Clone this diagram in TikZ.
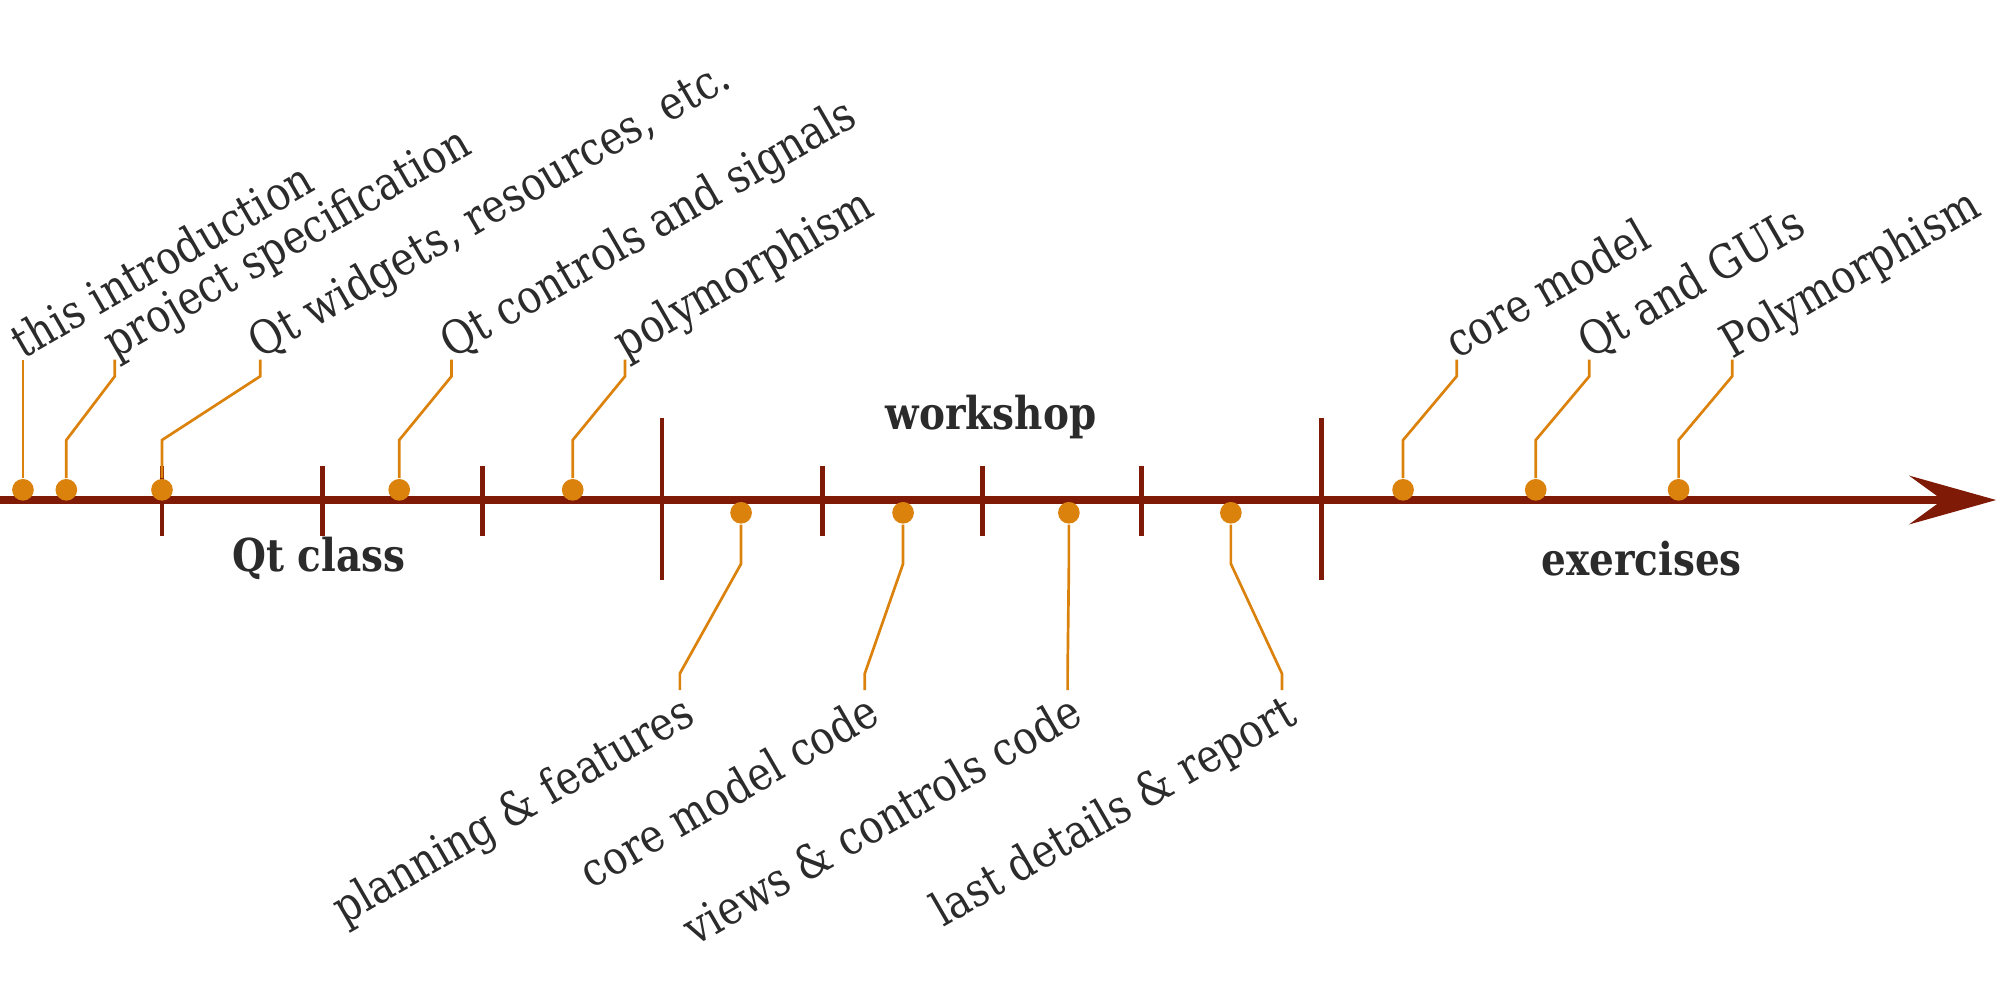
\documentclass[tikz,border=0pt]{standalone}
\usepackage{fontspec}
\setmainfont{DejaVu Serif}[FakeStretch=0.86]
\usetikzlibrary{arrows.meta}

\definecolor{axisred}{HTML}{7F1A07}
\definecolor{dotorange}{HTML}{DB820D}
\definecolor{txtgray}{HTML}{2B2B2B}

\tikzset{
	weektick/.style={draw=axisred, line width=1.1pt},
	evdot/.style={circle, fill=dotorange, inner sep=0pt, minimum size=1.7mm},
	callout/.style={draw=dotorange, line width=0.6pt},
	toplabel/.style={rotate=30, anchor=base west, text=txtgray, inner sep=0pt, font=\fontsize{10.4}{12}\selectfont},
	botlabel/.style={rotate=30, anchor=north east, text=txtgray, inner sep=0pt, font=\fontsize{10.4}{12}\selectfont},
	phase/.style={font=\fontsize{10.1}{12}\selectfont\bfseries, text=txtgray}
}

\begin{document}
\begin{tikzpicture}
	\useasboundingbox (0,-3.92) rectangle (15.68,3.92);
	
	\coordinate (a0) at (0,0);
	\coordinate (a1) at (15.65,0);
	\draw [axisred, line width=1.9pt, -{Stealth[length=6.8mm, width=3.8mm, inset=2.6mm]}] (a0) -- (a1);
	
	\draw [weektick] (1.27,0.27) -- (1.27,-0.28);
	\draw [weektick] (2.53,0.27) -- (2.53,-0.28);
	\draw [weektick] (3.78,0.27) -- (3.78,-0.28);
	\draw [weektick] (5.19,0.64) -- (5.19,-0.63);
	\draw [weektick] (6.45,0.27) -- (6.45,-0.28);
	\draw [weektick] (7.70,0.27) -- (7.70,-0.28);
	\draw [weektick] (8.95,0.27) -- (8.95,-0.28);
	\draw [weektick] (10.36,0.64) -- (10.36,-0.63);
	
	\node [phase] (p1) at (2.50,-0.46) {Qt class};
	\node [phase] (p2) at (7.77,0.65) {workshop};
	\node [phase] (p3) at (12.87,-0.46) {exercises};
	
	\node [evdot] (v1) at (0.18,0.08) {};
	\node [evdot] (v2) at (0.52,0.08) {};
	\node [evdot] (v3) at (1.27,0.08) {};
	\node [evdot] (v4) at (3.13,0.08) {};
	\node [evdot] (v5) at (4.49,0.08) {};
	\node [evdot] (v6) at (11.00,0.08) {};
	\node [evdot] (v7) at (12.04,0.08) {};
	\node [evdot] (v8) at (13.16,0.08) {};
	
	\node [evdot] (w1) at (5.81,-0.10) {};
	\node [evdot] (w2) at (7.08,-0.10) {};
	\node [evdot] (w3) at (8.38,-0.10) {};
	\node [evdot] (w4) at (9.65,-0.10) {};
	
	\node [toplabel] (t1) at (0.18,1.10) {this introduction};
	\node [toplabel] (t2) at (0.90,1.10) {project specification};
	\node [toplabel] (t3) at (2.04,1.10) {Qt widgets, resources, etc.};
	\node [toplabel] (t4) at (3.54,1.10) {Qt controls and signals};
	\node [toplabel] (t5) at (4.90,1.10) {polymorphism};
	\node [toplabel] (t6) at (11.42,1.10) {core model};
	\node [toplabel] (t7) at (12.46,1.10) {Qt and GUIs};
	\node [toplabel] (t8) at (13.58,1.10) {Polymorphism};
	
	\node [botlabel] (b1) at (5.33,-1.49) {planning \& features};
	\node [botlabel] (b2) at (6.78,-1.49) {core model code};
	\node [botlabel] (b3) at (8.37,-1.49) {views \& controls code};
	\node [botlabel] (b4) at (10.05,-1.49) {last details \& report};
	
	\draw [callout] (v1) -- (t1.base west);
	\draw [callout] (v2) -- (0.52,0.47) -- (0.90,0.97) -- (t2.base west);
	\draw [callout] (v3) -- (1.27,0.47) -- (2.04,0.97) -- (t3.base west);
	\draw [callout] (v4) -- (3.13,0.47) -- (3.54,0.97) -- (t4.base west);
	\draw [callout] (v5) -- (4.49,0.47) -- (4.90,0.97) -- (t5.base west);
	\draw [callout] (v6) -- (11.00,0.47) -- (11.42,0.97) -- (t6.base west);
	\draw [callout] (v7) -- (12.04,0.47) -- (12.46,0.97) -- (t7.base west);
	\draw [callout] (v8) -- (13.16,0.47) -- (13.58,0.97) -- (t8.base west);
	
	\draw [callout] (w1) -- (5.81,-0.50) -- (5.33,-1.36) -- (b1.north east);
	\draw [callout] (w2) -- (7.08,-0.50) -- (6.78,-1.36) -- (b2.north east);
	\draw [callout] (w3) -- (8.38,-0.50) -- (8.37,-1.36) -- (b3.north east);
	\draw [callout] (w4) -- (9.65,-0.50) -- (10.05,-1.36) -- (b4.north east);
\end{tikzpicture}
\end{document}
